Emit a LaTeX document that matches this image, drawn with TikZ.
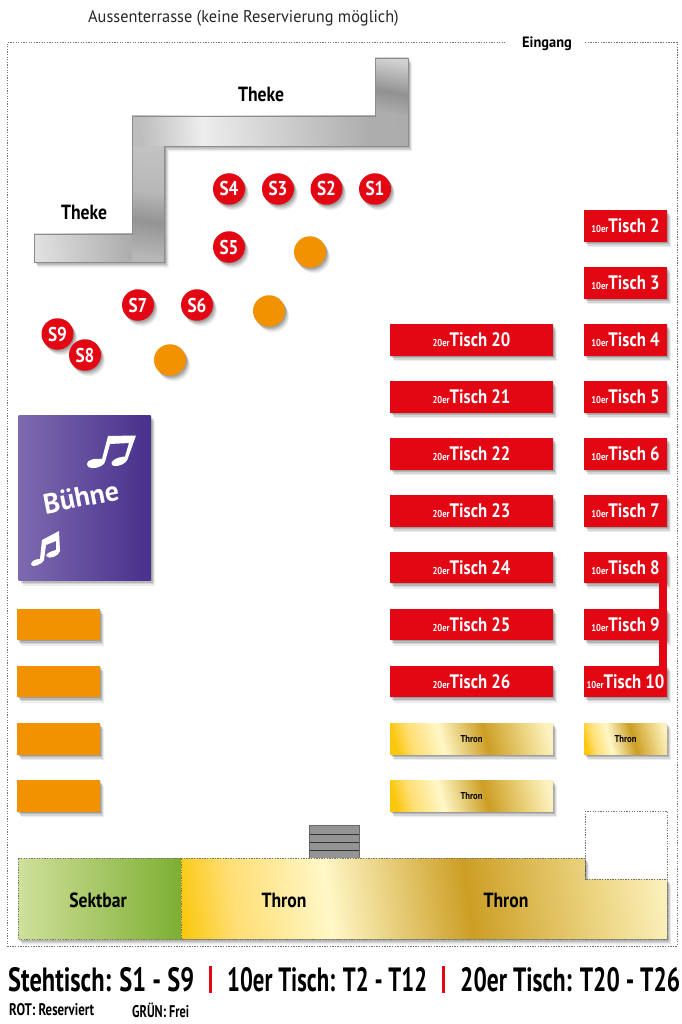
\documentclass[tikz,border=0pt]{standalone}
\usepackage{fontspec}
\usepackage{graphicx}
\usetikzlibrary{shadows,shapes.geometric}
\setmainfont{PT Sans}
\newfontfamily\din[FakeStretch=0.86]{PT Sans}
\newfontfamily\dinw[FakeStretch=0.96]{PT Sans}
\definecolor{tabred}{RGB}{227,6,19}
\definecolor{tabor}{RGB}{243,146,0}
\pgfdeclarehorizontalshading{goldband}{100bp}{
 rgb(0bp)=(0.98,0.78,0.05); rgb(22bp)=(0.98,0.78,0.05);
 rgb(28bp)=(1,0.87,0.45); rgb(39bp)=(1,0.97,0.78);
 rgb(55bp)=(0.80,0.62,0.14); rgb(70bp)=(0.93,0.84,0.52); rgb(78bp)=(0.99,0.95,0.75); rgb(100bp)=(0.99,0.95,0.75)}
\pgfdeclarehorizontalshading{steelLow}{100bp}{
 gray(0bp)=(0.88); gray(25bp)=(0.88); gray(75bp)=(0.68); gray(100bp)=(0.68)}
\pgfdeclarehorizontalshading{steelMid}{100bp}{
 gray(0bp)=(0.72); gray(25bp)=(0.72); gray(42bp)=(0.58); gray(56bp)=(0.72); gray(75bp)=(0.76); gray(100bp)=(0.76)}
\pgfdeclarehorizontalshading{steelTop}{100bp}{
 gray(0bp)=(0.74); gray(25bp)=(0.74); gray(37bp)=(0.93); gray(69bp)=(0.68); gray(100bp)=(0.66)}
\pgfdeclarehorizontalshading{steelEnd}{100bp}{
 gray(0bp)=(0.68); gray(25bp)=(0.68); gray(45bp)=(0.57); gray(75bp)=(0.82); gray(100bp)=(0.82)}
\tikzset{
 softshadow/.style={
  general shadow={fill=black,opacity=.14,shadow xshift=1pt,shadow yshift=-1pt},
  general shadow={fill=black,opacity=.14,shadow xshift=2pt,shadow yshift=-2.5pt},
  general shadow={fill=black,opacity=.10,shadow xshift=3pt,shadow yshift=-4pt},
  general shadow={fill=black,opacity=.07,shadow xshift=4pt,shadow yshift=-5.5pt}},
 redtable/.style={rectangle,fill=tabred,softshadow,inner sep=0pt,outer sep=0pt,text=white},
 goldtable/.style={rectangle,shading=goldband,shading angle=15,softshadow,inner sep=0pt,outer sep=0pt},
 smalltable/.style={minimum width=83pt,minimum height=31.5pt},
 widetable/.style={minimum width=163pt,minimum height=31.5pt},
 stool/.style={ellipse,minimum width=32pt,minimum height=31.5pt,inner sep=0pt,softshadow,fill=tabred,text=white,font=\din\bfseries\fontsize{20}{20}\selectfont},
 freestool/.style={stool,fill=tabor},
 sofa/.style={rectangle,fill=tabor,softshadow,minimum width=83pt,minimum height=31.5pt,inner sep=0pt},
 labelfont/.style={font=\din\bfseries\fontsize{20.5}{22}\selectfont,text=black,inner sep=0pt},
 framedash/.style={draw=black!55,line width=.5pt,dash pattern=on 1.3pt off 1.3pt},
 legend/.style={inner sep=0pt,anchor=west},
}
\newcommand{\tabletext}[2]{{\din\bfseries\fontsize{10}{10}\selectfont #1}{\din\bfseries\fontsize{19.5}{20}\selectfont Tisch #2}}
\newcommand{\legendtext}[3]{\resizebox{#1pt}{#2pt}{\bfseries #3}}
\begin{document}
\begin{tikzpicture}[x=1pt,y=-1pt]
\useasboundingbox (0,0) rectangle (681,1024);
% outer frame
\coordinate (fa) at (505,42.5);
\coordinate (fb) at (585,42.5);
\coordinate (fc) at (677,42.5);
\coordinate (fd) at (677,946);
\coordinate (fe) at (7.5,946);
\coordinate (ff) at (7.5,42.5);
\draw[framedash] (fb)--(fc)--(fd)--(fe)--(ff)--(fa);
\node[inner sep=0pt,anchor=west,font=\dinw\fontsize{17}{18}\selectfont,text=black!85] (terr) at (88,18) {Aussenterrasse (keine Reservierung möglich)};
\node[inner sep=0pt,font=\dinw\bfseries\fontsize{15}{16}\selectfont] (eing) at (547,44) {Eingang};
% Theke
\path[fill=black,softshadow] (375,58)--(408,58)--(408,146)--(164.5,146)--(164.5,262)--(34,262)--(34,234)--(132,234)--(132,116)--(375,116)--cycle;
\fill[shading=steelLow,shading angle=5] (34,234) rectangle (132,262);
\fill[shading=steelMid,shading angle=83] (132,146) rectangle (164.5,262);
\fill[shading=steelTop,shading angle=4] (132,116) rectangle (408,146);
\fill[shading=steelEnd,shading angle=80] (375,58) rectangle (408,116);
\draw[black!45,line width=.6pt] (375,58)--(408,58)--(408,146)--(164.5,146)--(164.5,262)--(34,262)--(34,234)--(132,234)--(132,116)--(375,116)--cycle;
\node[labelfont] (th1) at (261,94) {Theke};
\node[labelfont] (th2) at (84,212) {Theke};
% stools
\node[stool] (s4) at (229,189) {S4};
\node[stool] (s3) at (278,189) {S3};
\node[stool] (s2) at (326.5,189) {S2};
\node[stool] (s1) at (375,189) {S1};
\node[stool] (s5) at (229,247) {S5};
\node[stool] (s7) at (138,305) {S7};
\node[stool] (s6) at (197,305) {S6};
\node[stool] (s9) at (57.5,334) {S9};
\node[stool] (s8) at (85,355) {S8};
\node[freestool] (o1) at (310,252) {};
\node[freestool] (o2) at (269,311) {};
\node[freestool] (o3) at (170,360) {};
% right tables
\foreach \n/\y in {2/226,3/283,4/340,5/397,6/454,7/511,8/567.5,9/624.5,10/681.5}
 \node[redtable,smalltable] (t\n) at (625.5,\y) {\tabletext{10er}{\n}};
\foreach \n/\y in {20/340,21/397,22/454,23/511,24/567.5,25/624.5,26/681.5}
 \node[redtable,widetable] (t\n) at (471.5,\y) {\tabletext{20er}{\n}};
% link bar
\fill[tabred] ([xshift=-8pt]t8.south east) rectangle (t9.north east);
\fill[tabred] ([xshift=-8pt]t9.south east) rectangle (t10.north east);
\foreach \i/\x/\y/\w in {a/471.5/739/163,b/471.5/796/163,c/625.5/739/83}
 \node[goldtable,minimum width=\w pt,minimum height=31.5pt,font=\din\bfseries\fontsize{10}{10}\selectfont] (g\i) at (\x,\y) {Thron};
% left sofas
\foreach \i/\y in {1/624.5,2/681.5,3/739,4/796}
 \node[sofa] (so\i) at (58.5,\y) {};
% stage
\node[rectangle,minimum width=132pt,minimum height=165pt,softshadow,inner sep=0pt,
  shading=axis,left color={rgb,255:red,126;green,106;blue,176},right color={rgb,255:red,72;green,48;blue,140}] (stage) at (84.5,497.5) {};
\node[rotate=11,font=\bfseries\fontsize{28}{30}\selectfont,text=white,inner sep=0pt] (buehne) at (81,497) {Bühne};
\fill[white] (87,464) .. controls (87,460) and (94,458) .. (102,459) -- (108,436) -- (136,435.5) -- (128,458)
 .. controls (127,464) and (116,468) .. (112,465) .. controls (109,462) and (116,457) .. (125,456.5)
 -- (129,443) -- (110,444) -- (105,462) .. controls (103,468) and (87,471) .. (87,464) -- cycle;
\fill[white] (31,564) .. controls (32,560) and (37,559) .. (40,559) -- (42,540) -- (59,531) -- (60,551)
 .. controls (59,556) and (49,560) .. (46,556) .. controls (46,553) and (52,551) .. (56,550)
 -- (56,541) -- (46,545) -- (44,560) .. controls (42,565) and (31,568) .. (31,564) -- cycle;
% stairs
\draw[black!60,fill=black!42,line width=.5pt] (309.5,825) rectangle (359,859);
\draw[black!80,line width=.8pt] (309.5,834.5)--(359,834.5) (309.5,842.5)--(359,842.5) (309.5,850.5)--(359,850.5);
% free square
\draw[framedash] (585,811) rectangle (667,879);
% bottom
\path[fill=black,softshadow] (18,858)--(585,858)--(585,879)--(667,879)--(667,939)--(18,939)--cycle;
\fill[shading=axis,shading angle=90,left color={rgb,255:red,208;green,224;blue,155},right color={rgb,255:red,125;green,175;blue,50}] (18,858) rectangle (181,939);
\path[shading=goldband,shading angle=8] (181,858)--(585,858)--(585,879)--(667,879)--(667,939)--(181,939)--cycle;
\draw[framedash] (181,858)--(585,858)--(585,879)--(667,879)--(667,939)--(18,939)--(18,858)--(181,858)--(181,939);
\node[labelfont] (sekt) at (98,900) {Sektbar};
\node[labelfont] (thr1) at (284,900) {Thron};
\node[labelfont] (thr2) at (506,900) {Thron};
% bottom legend
\node[legend] (l1) at (8,980) {\legendtext{186}{24}{Stehtisch: S1 - S9}};
\fill[tabred] (209,966) rectangle (212,993);
\node[legend] (l2) at (227,980) {\legendtext{200}{24}{10er Tisch: T2 - T12}};
\fill[tabred] (442,966) rectangle (445,993);
\node[legend] (l3) at (460,980) {\legendtext{220}{24}{20er Tisch: T20 - T26}};
\node[legend] (l4) at (9,1010) {\legendtext{85}{12}{ROT: Reserviert}};
\node[legend] (l5) at (132,1010) {\legendtext{57}{14.5}{GRÜN: Frei}};
\end{tikzpicture}
\end{document}
